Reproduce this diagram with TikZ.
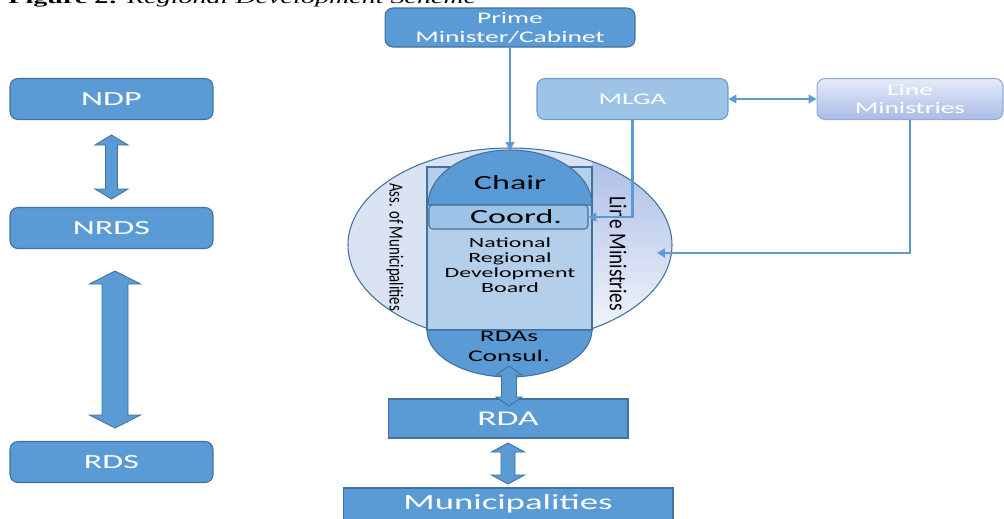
\documentclass[tikz,border=0pt]{standalone}
\usepackage{graphicx}
\usepackage{fontspec}
\setmainfont{Carlito}
\newfontfamily\boxfont[FakeStretch=1.7]{Carlito}
\newfontfamily\capfont[FakeStretch=1.7]{Liberation Serif}
\usetikzlibrary{arrows.meta}

\definecolor{boxblue}{HTML}{5B9BD5}
\definecolor{boxline}{HTML}{41719C}
\definecolor{paleblue}{HTML}{DAE3F3}
\definecolor{boardblue}{HTML}{B4CFEA}
\definecolor{coordblue}{HTML}{9DC3E6}
\definecolor{lavtop}{HTML}{A9BCE6}
\definecolor{lavbot}{HTML}{F5F7FC}
\definecolor{mlgaline}{HTML}{6A9CCF}

\tikzset{
  box/.style={draw=boxline, fill=boxblue, rounded corners=4.5pt, text=white,
    font=\boxfont\fontsize{11.4}{13}\selectfont, inner sep=0pt, line width=0.6pt},
  flatbox/.style={box, rounded corners=0pt},
  smallbox/.style={box, align=center, font=\boxfont\fontsize{9.2}{10.8}\selectfont},
  link/.style={draw=boxblue, line width=1.2pt, -{Triangle[length=4.5pt,width=5pt]}},
  blockarrow/.style={draw=boxline, fill=boxblue, line width=0.5pt},
  part/.style={draw=boxline, line width=0.6pt},
  label/.style={font=\boxfont\fontsize{11.4}{13}\selectfont, inner sep=0pt},
  sidelabel/.style={rotate=-90, inner sep=0pt}
}

% vertical two-headed block arrow: centre x, top tip, bottom tip, shaft half, head half, head length
\newcommand{\vbiarrow}[6]{%
  \draw[blockarrow] (#1,#2) -- ({#1+#5},{#2+#6}) -- ({#1+#4},{#2+#6}) -- ({#1+#4},{#3-#6})
    -- ({#1+#5},{#3-#6}) -- (#1,#3) -- ({#1-#5},{#3-#6}) -- ({#1-#4},{#3-#6})
    -- ({#1-#4},{#2+#6}) -- ({#1-#5},{#2+#6}) -- cycle;}

\begin{document}
\begin{tikzpicture}[x=0.02cm, y=-0.02cm]
  \useasboundingbox (0,0) rectangle (1004,518);
  \clip (0,0) rectangle (1004,518);

  % caption, cut off at the top
  \node[anchor=base west, inner sep=0pt, font=\capfont\fontsize{9.4}{11}\selectfont] (caption) at (8,3.5)
    {\textbf{Figure 2:} \textit{Regional Development Scheme}};

  % left column
  \node[box, minimum width=4.06cm, minimum height=0.82cm] (ndp) at (111.5,99) {NDP};
  \node[box, minimum width=4.06cm, minimum height=0.82cm] (nrds) at (111.5,228) {NRDS};
  \node[box, minimum width=4.06cm, minimum height=0.82cm] (rds) at (111.5,462) {RDS};
  \vbiarrow{111.5}{135}{199}{6}{16.5}{10}
  \vbiarrow{115}{271}{428}{13}{25.5}{13}

  % top boxes
  \node[smallbox, minimum width=5.0cm, minimum height=0.78cm] (prime) at (510,27.5) {Prime\\Minister/Cabinet};
  \node[smallbox, fill=coordblue, draw=mlgaline, minimum width=3.82cm, minimum height=0.82cm] (mlga) at (632.5,99) {MLGA};
  \node[smallbox, top color=lavbot!80!lavtop, bottom color=lavtop, draw=lavtop!80!boxline,
    minimum width=3.72cm, minimum height=0.82cm] (linemin) at (910,99) {Line\\Ministries};

  % board
  \fill[paleblue] (510,245) ellipse [x radius=162, y radius=97];
  \begin{scope}
    \clip (592,140) rectangle (680,350);
    \shade[top color=lavtop, bottom color=lavbot] (510,245) ellipse [x radius=162, y radius=97];
  \end{scope}
  \draw[part] (510,245) ellipse [x radius=162, y radius=97];
  \draw[part, fill=boardblue] (427,167) rectangle (592,330);
  \draw[part, fill=boxblue] (428,205) arc [start angle=180, end angle=360, x radius=82, y radius=55] -- cycle;
  \draw[part, fill=boxblue] (427,330) arc [start angle=180, end angle=0, x radius=82.5, y radius=47] -- cycle;
  \node[part, fill=coordblue, rounded corners=2pt, minimum width=3.18cm, minimum height=0.48cm,
    inner sep=0pt] (coordbox) at (508.5,217) {};
  \coordinate (chairtop) at (510,150);
  \coordinate (lmin-in) at (657,253);

  \node[label] (chair) at (510,183) {Chair};
  \node[label] (coord) at (516,217) {Coord.};
  \node[align=center, inner sep=0pt, font=\boxfont\fontsize{8}{8.6}\selectfont] (board) at (510,265)
    {National\\Regional\\Development\\Board};
  \node[align=center, inner sep=0pt, font=\boxfont\fontsize{9.2}{11.4}\selectfont] (rdas) at (509,346)
    {RDAs\\Consul.};
  \node[sidelabel, font=\fontsize{8.4}{9}\selectfont] (assmun) at (395,247)
    {\scalebox{1}[1.35]{Ass. of Municipalities}};
  \node[sidelabel, font=\fontsize{11}{12}\selectfont] (lmside) at (618,254)
    {\scalebox{1}[1.25]{Line Ministries}};

  % lower column
  \node[flatbox, minimum width=4.8cm, minimum height=0.78cm, font=\boxfont\fontsize{11.9}{13}\selectfont] (rda) at (508,418.5) {RDA};
  \node[flatbox, minimum width=6.6cm, minimum height=0.64cm, font=\boxfont\fontsize{12.3}{13}\selectfont] (mun) at (508,504) {Municipalities};
  \vbiarrow{509}{366}{406}{7.5}{13}{9}
  \vbiarrow{508}{443}{484}{7}{16.5}{9}

  % links
  \draw[link] (prime) -- (chairtop);
  \draw[link, {Triangle[length=4.5pt,width=5pt]}-{Triangle[length=4.5pt,width=5pt]}, line width=0.8pt]
    (mlga.east) -- (linemin.west);
  \draw[link] (mlga.south) |- (coordbox.east);
  \draw[link] (linemin.south) |- (lmin-in);
\end{tikzpicture}
\end{document}
